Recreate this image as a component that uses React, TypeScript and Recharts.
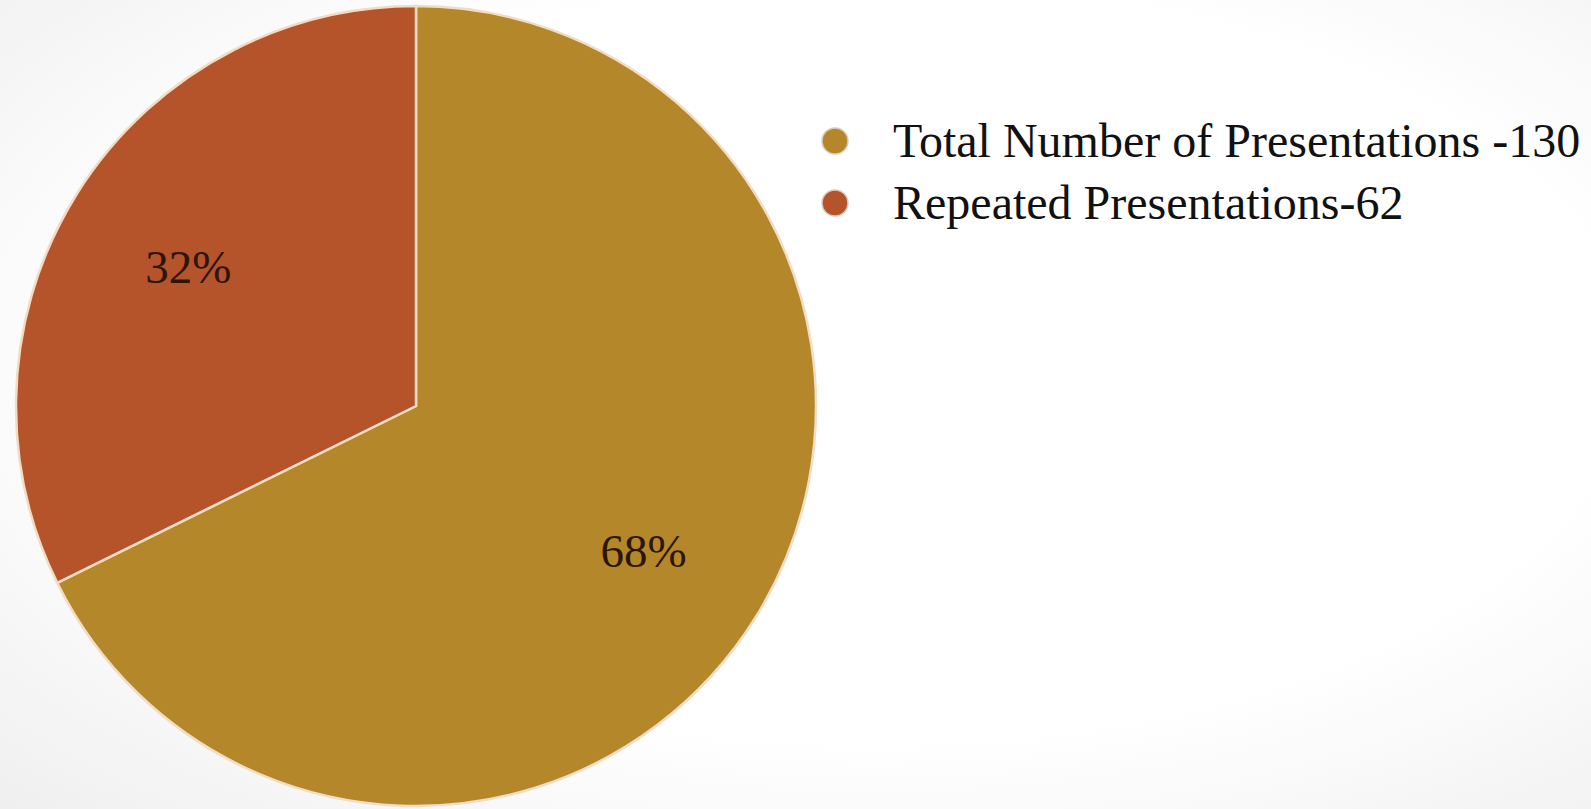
import React from "react";
import { PieChart, Pie, Cell, Legend } from "recharts";

const categories = ["Total Number of Presentations -130", "Repeated Presentations-62"];
const values = [130, 62];
const colors = ["#B5872B", "#B5532A"];

const data = categories.map((name, i) => ({ name, value: values[i] }));

const RADIAN = Math.PI / 180;

const renderLabel = (props: any) => {
  const { cx, cy, midAngle, outerRadius, percent } = props;
  const r = outerRadius * 0.67;
  const x = cx + r * Math.cos(-midAngle * RADIAN);
  const y = cy + r * Math.sin(-midAngle * RADIAN) + 3;
  return (
    <text
      x={x}
      y={y}
      fill="#2b1608"
      textAnchor="middle"
      dominantBaseline="central"
      fontFamily="'Liberation Serif', 'DejaVu Serif', serif"
      fontSize={47}
    >
      {`${Math.round(percent * 100)}%`}
    </text>
  );
};

const renderLegend = () => (
  <div style={{ fontFamily: "'Liberation Serif', serif", fontSize: 48, color: "#111", lineHeight: 1 }}>
    {categories.map((c, i) => (
      <div key={c} style={{ display: "flex", alignItems: "center", height: 62 }}>
        <svg width={30} height={30} style={{ marginRight: 43, flexShrink: 0 }}>
          <circle cx={15} cy={15} r={13} fill={colors[i]} stroke="#d9cbbd" strokeWidth={1.5} />
        </svg>
        <span style={{ whiteSpace: "nowrap" }}>{c}</span>
      </div>
    ))}
  </div>
);

export default function App() {
  return (
    <div
      style={{
        position: "absolute",
        left: 0,
        top: 0,
        width: 1591,
        height: 809,
        background: "radial-gradient(ellipse at 55% 45%, #ffffff 60%, #efefef 100%)",
        overflow: "hidden",
      }}
    >
      <PieChart width={1591} height={809} margin={{ top: 0, right: 0, bottom: 0, left: 0 }}>
        <Pie
          data={data}
          dataKey="value"
          nameKey="name"
          cx={416}
          cy={406}
          outerRadius={400}
          startAngle={90}
          endAngle={-270}
          stroke="#f1dcc4"
          strokeWidth={2.5}
          label={renderLabel}
          labelLine={false}
          isAnimationActive={false}
        >
          {data.map((d, i) => (
            <Cell key={d.name} fill={colors[i]} />
          ))}
        </Pie>
        <Legend
          content={renderLegend}
          layout="vertical"
          verticalAlign="top"
          align="right"
          wrapperStyle={{ left: 820, top: 110, right: "auto", width: 770 }}
        />
      </PieChart>
    </div>
  );
}
